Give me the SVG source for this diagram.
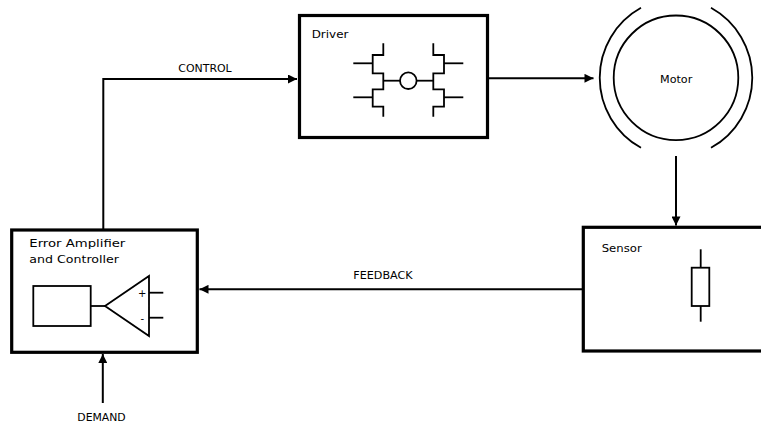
<svg xmlns="http://www.w3.org/2000/svg" width="761" height="425" viewBox="0 0 761 425">
<style>
.box{fill:#fff;stroke:#000;stroke-width:3.2}
.det{fill:none;stroke:#000;stroke-width:1.8}
.con{fill:none;stroke:#000;stroke-width:2}
text{font-family:"DejaVu Sans","Liberation Sans",sans-serif;font-size:11px;fill:#000}
</style>
<defs>
<marker id="ah" viewBox="0 0 10 10" refX="10" refY="5" markerWidth="10" markerHeight="9" markerUnits="userSpaceOnUse" orient="auto">
<path d="M0,0 L10,5 L0,10 z" fill="#000"/>
</marker>
</defs>
<rect width="761" height="425" fill="#fff"/>
<g id="connectors">
<polyline class="con" points="103.3,229 103.3,79 297,79" marker-end="url(#ah)"/>
<text x="178.3" y="71.7" textLength="53.4" lengthAdjust="spacingAndGlyphs">CONTROL</text>
<line class="con" x1="488" y1="78.3" x2="593.5" y2="78.3" marker-end="url(#ah)"/>
<line class="con" x1="676" y1="156" x2="676" y2="225.5" marker-end="url(#ah)"/>
<line class="con" x1="583" y1="289.3" x2="199.5" y2="289.3" marker-end="url(#ah)"/>
<text x="353.3" y="279" textLength="59.4" lengthAdjust="spacingAndGlyphs">FEEDBACK</text>
<line class="con" x1="102.8" y1="403" x2="102.8" y2="354" marker-end="url(#ah)"/>
<text x="77.3" y="421" textLength="48.4" lengthAdjust="spacingAndGlyphs">DEMAND</text>
</g>
<g id="driver">
<rect class="box" x="299.5" y="15.5" width="188" height="122"/>
<text x="311.7" y="38.3" textLength="36.7" lengthAdjust="spacingAndGlyphs">Driver</text>
<polyline class="det" points="383.3,43.3 383.3,55 372.7,55 372.7,73.3 383.3,73.3 383.3,89.3 372.7,89.3 372.7,106.7 383.3,106.7 383.3,116.7"/>
<line class="det" x1="353.3" y1="63.3" x2="372.7" y2="63.3"/>
<line class="det" x1="353.3" y1="97.3" x2="372.7" y2="97.3"/>
<polyline class="det" points="433.3,43.3 433.3,55 444,55 444,73.3 433.3,73.3 433.3,89.3 444,89.3 444,106.7 433.3,106.7 433.3,116.7"/>
<line class="det" x1="444" y1="63.3" x2="463.3" y2="63.3"/>
<line class="det" x1="444" y1="97.3" x2="463.3" y2="97.3"/>
<line class="det" x1="383.3" y1="80.7" x2="400" y2="80.7"/>
<line class="det" x1="416.7" y1="80.7" x2="433.3" y2="80.7"/>
<circle class="det" cx="408.3" cy="80.7" r="8.3"/>
</g>
<g id="motor">
<circle class="det" cx="676" cy="77.8" r="62.3"/>
<path class="det" d="M641,7.8 A80,80 0 0 0 641,147.8"/>
<path class="det" d="M711,7.8 A80,80 0 0 1 711,147.8"/>
<text x="660" y="83.3" textLength="32.3" lengthAdjust="spacingAndGlyphs">Motor</text>
</g>
<g id="sensor">
<rect class="box" x="583.3" y="227.3" width="190" height="123.7"/>
<text x="601.7" y="251.7" textLength="40" lengthAdjust="spacingAndGlyphs">Sensor</text>
<line class="det" x1="700.7" y1="249.3" x2="700.7" y2="321.7"/>
<rect class="det" x="691.7" y="267.7" width="17.6" height="38.3" fill="#fff" style="fill:#fff"/>
</g>
<g id="error-amplifier">
<rect class="box" x="11.7" y="230" width="185.6" height="122.3"/>
<text x="29.3" y="246.7" textLength="96" lengthAdjust="spacingAndGlyphs">Error Amplifier</text>
<text x="29.3" y="263.3" textLength="89.7" lengthAdjust="spacingAndGlyphs">and Controller</text>
<rect class="det" x="33.3" y="286" width="57.4" height="40"/>
<line class="det" x1="90.7" y1="306" x2="105" y2="306"/>
<polygon class="det" points="105,306 149,276 149,336"/>
<line class="det" x1="149" y1="292.7" x2="163.3" y2="292.7"/>
<line class="det" x1="149" y1="317.7" x2="163.3" y2="317.7"/>
<text x="142.3" y="297" text-anchor="middle" style="font-size:10px">+</text>
<text x="142.3" y="321.5" text-anchor="middle" style="font-size:10px">-</text>
</g>
</svg>
